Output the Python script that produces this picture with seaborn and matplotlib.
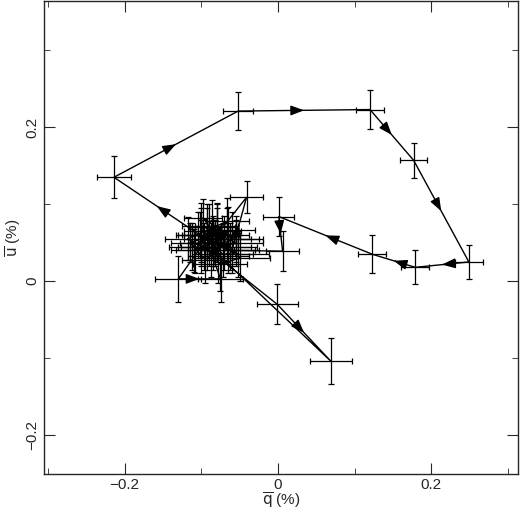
import numpy as np
import pandas as pd
import seaborn as sns
import matplotlib
matplotlib.use("Agg")
import matplotlib.pyplot as plt
from matplotlib.ticker import FuncFormatter, MultipleLocator

sns.set_style("ticks")
plt.rcParams['font.family'] = ['Liberation Sans', 'DejaVu Sans']

q = [-0.085, -0.100, -0.070, -0.110, -0.080, -0.060, -0.095, -0.115, -0.065, -0.100,
     -0.130, -0.075,
     -0.088, -0.055, -0.100, -0.078, -0.118, -0.066, -0.090, -0.050, -0.076, -0.096,
     -0.001, 0.069,
     -0.105, -0.085, -0.065, -0.098, -0.055, -0.080, -0.112, -0.072, -0.092, -0.102,
     -0.214, -0.052, 0.120, 0.177, 0.249, 0.179, 0.123, 0.001, 0.006,
     -0.060, -0.041,
     -0.080, -0.100, -0.062, -0.086, -0.108, -0.070, -0.092, -0.052, -0.082, -0.066]
u = [0.050, 0.060, 0.045, 0.040, 0.072, 0.055, 0.028, 0.050, 0.066, 0.045,
     0.003, 0.003,
     0.040, 0.050, 0.072, 0.033, 0.055, 0.078, 0.060, 0.030, 0.022, 0.045,
     -0.030, -0.104,
     0.060, 0.050, 0.040, 0.082, 0.055, 0.065, 0.045, 0.035, 0.055, 0.060,
     0.135, 0.221, 0.223, 0.157, 0.025, 0.018, 0.035, 0.084, 0.039,
     0.040, 0.109,
     0.060, 0.050, 0.045, 0.070, 0.040, 0.055, 0.065, 0.035, 0.050, 0.060]
qerr = [0.030, 0.025, 0.035, 0.030, 0.028, 0.040, 0.030, 0.025, 0.035, 0.030,
        0.030, 0.030,
        0.030, 0.035, 0.025, 0.040, 0.030, 0.028, 0.032, 0.040, 0.035, 0.030,
        0.027, 0.027,
        0.028, 0.030, 0.035, 0.025, 0.030, 0.032, 0.030, 0.040, 0.030, 0.028,
        0.022, 0.020, 0.018, 0.018, 0.018, 0.018, 0.018, 0.020, 0.021,
        0.035, 0.021,
        0.030, 0.028, 0.035, 0.030, 0.025, 0.035, 0.030, 0.040, 0.030, 0.028]
uerr = [0.030, 0.035, 0.030, 0.028, 0.030, 0.035, 0.030, 0.025, 0.030, 0.035,
        0.030, 0.030,
        0.035, 0.030, 0.030, 0.035, 0.028, 0.030, 0.040, 0.030, 0.035, 0.030,
        0.026, 0.030,
        0.030, 0.035, 0.030, 0.025, 0.030, 0.035, 0.030, 0.030, 0.040, 0.030,
        0.027, 0.025, 0.025, 0.023, 0.022, 0.022, 0.025, 0.025, 0.026,
        0.030, 0.021,
        0.035, 0.030, 0.030, 0.035, 0.030, 0.030, 0.035, 0.030, 0.030, 0.035]
arrow_segments = [10, 22, 33, 34, 35, 36, 37, 38, 39, 40, 41, 43]

df = pd.DataFrame({"q": q, "u": u, "order": range(len(q))})

fig, ax = plt.subplots(figsize=(5.2, 5.12), dpi=100)
fig.subplots_adjust(left=0.085, right=0.996, bottom=0.075, top=0.998)
ax.errorbar(df.q, df.u, xerr=qerr, yerr=uerr, fmt="none", ecolor="black",
            elinewidth=0.9, capsize=2, capthick=0.9)
sns.lineplot(data=df, x="q", y="u", sort=False, color="black", lw=1.0, ax=ax,
             estimator=None)
for i in arrow_segments:
    x0, y0, x1, y1 = q[i], u[i], q[i + 1], u[i + 1]
    xm, ym = (x0 + x1) / 2, (y0 + y1) / 2
    ax.annotate("", xy=(xm, ym), xytext=(x0 + 0.45 * (x1 - x0), y0 + 0.45 * (y1 - y0)),
                arrowprops=dict(arrowstyle="-|>,head_length=0.8,head_width=0.3",
                                color="black", lw=1.0, shrinkA=0, shrinkB=0))

ax.set_xlim(-0.305, 0.313)
ax.set_ylim(-0.25, 0.364)
ax.xaxis.set_major_locator(MultipleLocator(0.2))
ax.xaxis.set_minor_locator(MultipleLocator(0.1))
ax.yaxis.set_major_locator(MultipleLocator(0.2))
ax.yaxis.set_minor_locator(MultipleLocator(0.1))
fmt = FuncFormatter(lambda v, p: "0" if abs(v) < 1e-9 else ("%.1f" % v).replace("-", "\u2212"))
ax.xaxis.set_major_formatter(fmt)
ax.yaxis.set_major_formatter(fmt)
ax.tick_params(which="both", direction="in", top=True, right=True, labelsize=11)
ax.tick_params(which="major", length=8)
ax.tick_params(which="minor", length=4)
ax.tick_params(axis="y", labelrotation=90)
for lab in ax.get_yticklabels():
    lab.set_va("center")
ax.set_xlabel(r"$\overline{\rm q}$ (%)", fontsize=11, labelpad=-1)
ax.set_ylabel(r"$\overline{\rm u}$ (%)", fontsize=11, labelpad=2)
for s in ax.spines.values():
    s.set_linewidth(1.0)
fig.savefig("out.png", dpi=100)
